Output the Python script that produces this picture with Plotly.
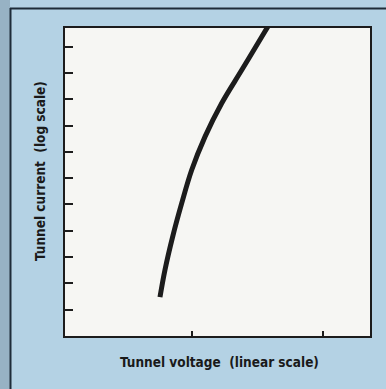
import plotly.graph_objects as go

# Tunnel current (decades, log10) versus tunnel voltage (arbitrary linear units)
voltage = [0.756, 0.794, 0.853, 0.922, 0.998, 1.100, 1.227, 1.380, 1.533, 1.611]
log_current = [1.48, 2.51, 3.78, 5.05, 6.31, 7.58, 8.85, 10.11, 11.38, 12.02]

y_ticks = [1, 2, 3, 4, 5, 6, 7, 8, 9, 10, 11]
x_ticks = [1, 2]

x_title = "Tunnel voltage  (linear scale)"
y_title = "Tunnel current  (log scale)"

W, H = 386, 389
ML, MR, MT, MB = 65, 16, 28, 53
PW, PH = W - ML - MR, H - MT - MB


def px(x):
    return (x - ML) / PW


def py(y):
    return (H - MB - y) / PH


BG = "#b4d2e4"
STRIP = "#97b2c4"
INK = "#1c1c1c"
FONT = "DejaVu Sans Condensed, Roboto Condensed, Liberation Sans Narrow, Roboto, sans-serif"

fig = go.Figure()
fig.add_trace(go.Scatter(
    x=voltage, y=log_current, mode="lines",
    line=dict(color=INK, width=5, shape="spline", smoothing=1.0),
    hoverinfo="skip", showlegend=False,
))

axis_common = dict(
    showgrid=False, zeroline=False, showticklabels=False,
    showline=True, linecolor=INK, linewidth=2, mirror=True,
    ticks="inside", tickcolor=INK, tickwidth=2,
)
fig.update_xaxes(range=[0.031, 2.359], tickvals=x_ticks, ticklen=5, **axis_common)
fig.update_yaxes(range=[0, 11.71], tickvals=y_ticks, ticklen=8, **axis_common)

shapes = [
    # darker strip along the left edge
    dict(type="rect", xref="paper", yref="paper", x0=px(0), x1=px(10), y0=py(H + 2), y1=py(-2),
         fillcolor=STRIP, line=dict(width=0), layer="below"),
    # panel border lines (left and top)
    dict(type="line", xref="paper", yref="paper", x0=px(10.5), x1=px(10.5), y0=py(8), y1=py(H + 2),
         line=dict(color="#1e2c38", width=2)),
    dict(type="line", xref="paper", yref="paper", x0=px(10), x1=px(W + 2), y0=py(8.5), y1=py(8.5),
         line=dict(color="#1e2c38", width=2)),
]

title_font = dict(family=FONT, size=13.5, color="#1a1a1a", weight="bold")
annotations = [
    dict(text=x_title, xref="paper", yref="paper", x=px(219), y=py(362),
         showarrow=False, xanchor="center", yanchor="middle", font=title_font),
    dict(text=y_title, xref="paper", yref="paper", x=px(40), y=py(171),
         showarrow=False, xanchor="center", yanchor="middle", font=title_font, textangle=-90),
]

fig.update_layout(
    width=W, height=H,
    margin=dict(l=ML, r=MR, t=MT, b=MB),
    paper_bgcolor=BG, plot_bgcolor="#f6f6f3",
    shapes=shapes, annotations=annotations,
    font=dict(family=FONT),
)

fig.write_html("out.html")
